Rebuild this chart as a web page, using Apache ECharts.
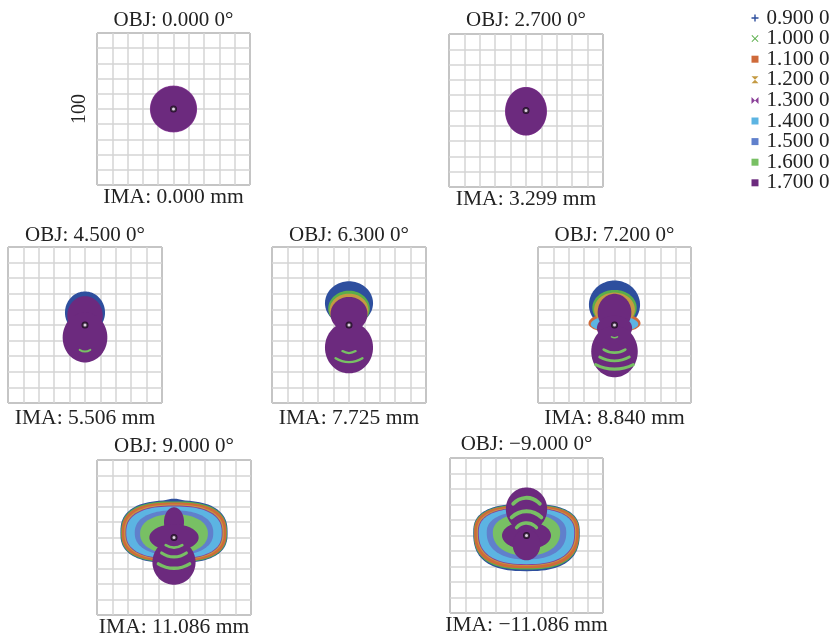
<!DOCTYPE html>
<html><head><meta charset="utf-8">
<script src="https://cdn.jsdelivr.net/npm/echarts@6/dist/echarts.min.js"></script>
<style>html,body{margin:0;padding:0;background:#fff}#c{width:833px;height:639px}</style>
</head><body><div id="c"></div>
<script>
// ---------------- data ----------------
const wavelengths = ['0.900 0','1.000 0','1.100 0','1.200 0','1.300 0','1.400 0','1.500 0','1.600 0','1.700 0'];
const objLabels = ['OBJ: 0.000 0°','OBJ: 2.700 0°','OBJ: 4.500 0°','OBJ: 6.300 0°','OBJ: 7.200 0°','OBJ: 9.000 0°','OBJ: −9.000 0°'];
const imaLabels = ['IMA: 0.000 mm','IMA: 3.299 mm','IMA: 5.506 mm','IMA: 7.725 mm','IMA: 8.840 mm','IMA: 11.086 mm','IMA: −11.086 mm'];
const scaleBar = '100';               // box width in µm
const axisMin = -50, axisMax = 50, axisStep = 10;
const chiefRay = [[0, 0]];

// spot regions per wavelength: [panel, cx, cy, rx, ryTop, ryBottom, squareness] in µm
const s0900 = [[2,0,8,13,13.5,13.5,2],[3,0,14,15.6,14,14,2],[4,0,13,16.7,15.5,15.5,2],
  [5,0,3,34.8,21,19.5,2.6],[5,0,17,12,8,8,2],[6,0,2,34.8,18.5,25,2.6]];
const s1000 = [[3,0,10.5,13.5,11.5,11.5,2],[4,0,11,14.5,11.5,11.5,2],
  [5,0,3,34.4,20.3,19,2.6],[6,0,2,34.5,18,24,2.6]];
const s1100 = [[4,0,1,17,7,6,2],[5,0,3,34,19.6,18.5,2.6],[6,0,2,34.2,17.5,23.2,2.6]];
const s1200 = [[3,0,9.5,12.6,10.6,10.6,2],[4,0,10,13.3,10.8,10.8,2],
  [5,0,3,32.3,18.3,17.5,2.5],[6,0,2,32.5,16.5,21.5,2.5]];
const s1300 = [[0,0,0,15.4,15.4,15.4,2],[1,0,-0.5,13.6,15.9,15.9,2],
  [5,0,3,31.5,17.6,17,2.5],[6,0,2,31.8,16,21,2.5]];
const s1400 = [[4,0,0.5,15.5,5.5,4.8,2],[5,0,3,31,17,16.5,2.5],[6,0,2,31.2,15.5,20.5,2.5]];
const s1500 = [[5,0,3,25.5,14.5,14.5,2.3],[6,0,2,26,13.5,17.5,2.3]];
const s1600 = [[5,0,2.5,22,12.5,13,2.2],[6,0,2,22,12,15,2.2]];
const s1700 = [[0,0,0,15,15,15,2],[1,0,-0.5,13.3,15.6,15.6,2],
  [2,0,6,11.5,12.5,12.5,2],[2,0,-8,14.5,16,16,2],
  [3,0,7,12,11,11,2],[3,0,-14.5,15.6,16.5,16.5,2],
  [4,0,8,11,12,12,2],[4,0,-2,11.5,8,8,2],[4,0,-17,15.2,16.5,16.5,2],
  [5,0,10,6.5,9.5,9.5,2],[5,0,0,16,8.5,8.5,2],[5,0,-16,14,14.5,14.5,2],
  [6,0,17,13.5,14,14,2],[6,0,0,16,9,9,2],[6,0,-6,9,10,10,2]];
// ring gaps of 1.700 showing 1.600 beneath: [panel, cx, cy, r, a0deg, a1deg, width] in µm
const arcs1600 = [[2,0,-10.4,6.6,-122,-58,1.2],
  [3,0,-9.7,8.3,-121,-59,1.5],[3,0,-7.6,16.4,-122,-58,1.6],
  [4,0,-3.95,4.25,-118,-62,1],[4,0,-4.75,13.25,-122,-58,1.8],[4,0,-3.4,20,-119,-61,1.8],[4,0,-1.7,27.1,-117,-63,2],
  [5,0,3.9,10.4,-121,-59,1.8],[5,0,1.4,14,-125,-55,2],[5,0,-0.8,19.2,-122,-58,2.2],
  [6,0,13,11.5,41,139,2.5],[6,0,2.05,13.75,45,135,2.5],[6,0,-0.3,8.5,40,140,2.2]];
const spotSets = [s0900,s1000,s1100,s1200,s1300,s1400,s1500,s1600,s1700];

// ---------------- layout & style ----------------
const colors = ['#2e4f9e','#5aae4a','#cf6a3a','#c49a42','#8a3f98','#5cb4e2','#6080cc','#78c064','#6c2a7e'];
const icons = ['path://M4,0h2v4h4v2h-4v4h-2v-4h-4v-2h4z',
  'path://M1,0L5,4L9,0L10,1L6,5L10,9L9,10L5,6L1,10L0,9L4,5L0,1Z',
  'rect','path://M0,0H10L0,10H10Z','path://M0,0V10L10,0V10Z','rect','rect','rect','rect'];
const boxes = [[97,33,153,152],[449,34,154,153],[8,247,154,156],[272,247,154,156],[538,247,153,156],[97,460,154,155],[450,458,153,155]];
const titleY = [20,20,235,235,235,446,444];
const imaY = [197,199,418,418,418,627,625];
const FONT = '"Liberation Serif","Times New Roman",serif';

const grids = [], xAxes = [], yAxes = [], series = [], graphics = [];
boxes.forEach((b, p) => {
  grids.push({left:b[0], top:b[1], width:b[2], height:b[3], show:true, borderColor:'#333', borderWidth:1, backgroundColor:'#fff'});
  const ax = {gridIndex:p, type:'value', min:axisMin, max:axisMax, interval:axisStep,
    axisLine:{show:false}, axisTick:{show:false}, axisLabel:{show:false},
    splitLine:{show:true, lineStyle:{color:'#d4d4d4', width:1.5}}};
  xAxes.push(Object.assign({}, ax));
  const ya = Object.assign({}, ax);
  if (p === 0) {
    Object.assign(ya, {name:scaleBar, nameLocation:'middle', nameGap:7, nameRotate:90,
      nameTextStyle:{fontFamily:FONT, fontSize:20, color:'#222'}});
  }
  yAxes.push(ya);
  const cx = b[0] + b[2] / 2;
  graphics.push({type:'text', x:cx, y:titleY[p], silent:true,
    style:{text:objLabels[p], font:'21px ' + FONT, fill:'#222', align:'center', verticalAlign:'middle'}});
  graphics.push({type:'text', x:cx, y:imaY[p], silent:true,
    style:{text:imaLabels[p], font:'21.5px ' + FONT, fill:'#222', align:'center', verticalAlign:'middle'}});
});

// superellipse outline (n = 2 gives an ellipse), mapped through the axes
function blobRender(color) {
  return function (params, api) {
    const cx = api.value(0), cy = api.value(1), rx = api.value(2), ryT = api.value(3), ryB = api.value(4), n = api.value(5);
    const pts = [];
    for (let k = 0; k < 96; k++) {
      const t = k / 96 * 2 * Math.PI;
      const c = Math.cos(t), s = Math.sin(t);
      const x = cx + rx * Math.sign(c) * Math.pow(Math.abs(c), 2 / n);
      const y = cy + (s >= 0 ? ryT : ryB) * Math.sign(s) * Math.pow(Math.abs(s), 2 / n);
      pts.push(api.coord([x, y]));
    }
    return {type:'polygon', shape:{points:pts, smooth:0}, style:{fill:color, stroke:null}};
  };
}
function arcRender(color) {
  return function (params, api) {
    const c = api.coord([api.value(0), api.value(1)]);
    const r = api.size([api.value(2), api.value(2)])[0];
    const w = api.size([api.value(5), api.value(5)])[0];
    return {type:'arc', shape:{cx:c[0], cy:c[1], r:r, startAngle:-api.value(4)*Math.PI/180, endAngle:-api.value(3)*Math.PI/180, clockwise:true},
      style:{stroke:color, lineWidth:w, fill:'none', lineCap:'round'}};
  };
}

boxes.forEach((b, p) => {
  spotSets.forEach((set, w) => {
    const d = set.filter(e => e[0] === p).map(e => e.slice(1));
    series.push({type:'custom', name:wavelengths[w], xAxisIndex:p, yAxisIndex:p, silent:true,
      itemStyle:{color:colors[w]}, renderItem:blobRender(colors[w]), data:d, clip:true});
  });
  const a = arcs1600.filter(e => e[0] === p).map(e => e.slice(1));
  series.push({type:'custom', name:wavelengths[7], xAxisIndex:p, yAxisIndex:p, silent:true,
    itemStyle:{color:colors[7]}, renderItem:arcRender(colors[7]), data:a, clip:true});
  series.push({type:'scatter', name:'chief', xAxisIndex:p, yAxisIndex:p, silent:true, data:chiefRay,
    symbol:'emptyCircle', symbolSize:5, itemStyle:{color:'#1a0a1e', borderColor:'#1a0a1e', borderWidth:1.6}});
});

const chart = echarts.init(document.getElementById('c'), null, {renderer:'canvas'});
chart.setOption({
  animation:false,
  backgroundColor:'#fff',
  grid:grids, xAxis:xAxes, yAxis:yAxes,
  legend:{orient:'vertical', left:746.5, top:2.5, itemWidth:7, itemHeight:7, itemGap:-0.4,
    data:wavelengths.map((n, i) => ({name:n, icon:icons[i]})),
    textStyle:{fontFamily:FONT, fontSize:21, color:'#222', padding:[0,0,0,3]}},
  graphic:graphics,
  series:series
});
</script></body></html>
